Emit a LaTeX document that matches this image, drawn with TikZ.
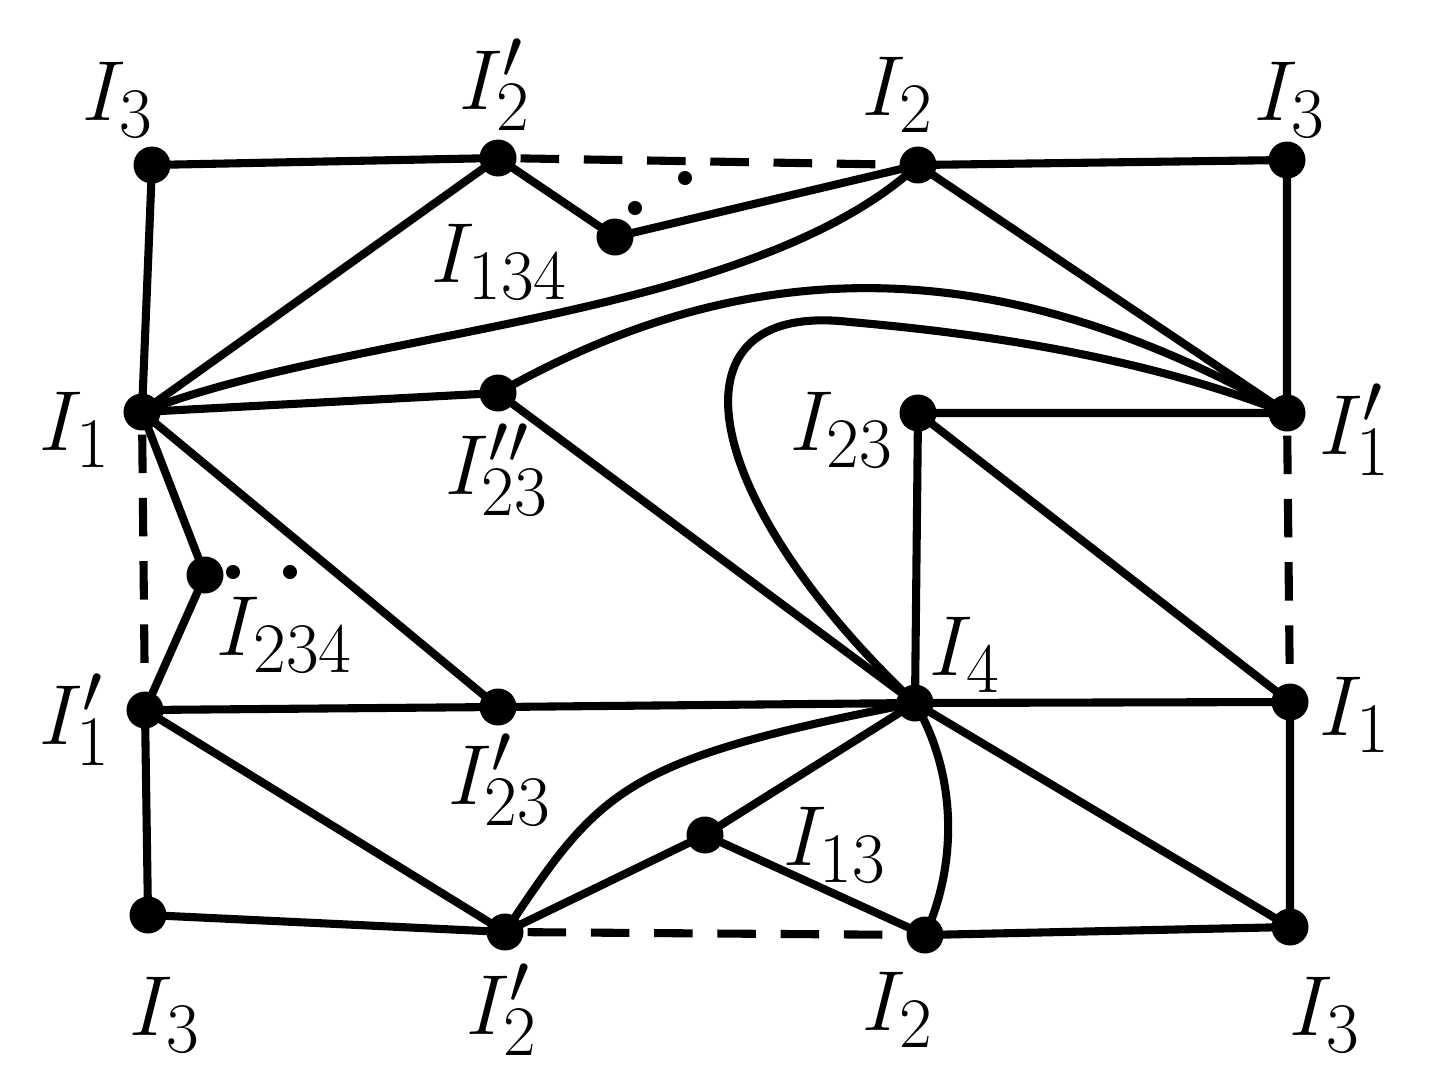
\documentclass[tikz,border=0pt]{standalone}
\begin{document}
\begin{tikzpicture}[x=0.02cm,y=-0.02cm,line width=4.6pt,
  dot/.style={circle,fill=black,inner sep=0pt,minimum size=0.74cm},
  lab/.style={font=\Huge,scale=1.95},
  dsh/.style={dash pattern=on 22pt off 14pt}]
\useasboundingbox (0,0) rectangle (1429,1079);
\foreach \n/\x/\y in {a/152/165,b/498/158,c/918/165,d/1287/160,e/615/237,f/142/412,g/498/393,h/918/413,i/1287/413,j/205/575,k/145/710,l/498/707,m/915/703,n/1290/702,o/705/835,p/148/915,q/505/932,r/925/935,s/1290/927}
  \node[dot] (\n) at (\x,\y) {};
\foreach \x/\y in {635/208,685/178,233/572,290/572} \fill (\x,\y) circle (4pt);
\draw (a.center)--(b.center) (a.center)--(f.center) (c.center)--(d.center) (d.center)--(i.center) (b.center)--(e.center) (e.center)--(c.center) (b.center)--(f.center) (c.center)--(i.center)
  (f.center)--(g.center) (g.center)--(m.center) (h.center)--(i.center) (h.center)--(m.center) (h.center)--(n.center) (f.center)--(j.center) (j.center)--(k.center) (f.center)--(l.center) (k.center)--(l.center)
  (l.center)--(m.center) (m.center)--(n.center) (n.center)--(s.center) (m.center)--(s.center) (m.center)--(o.center) (o.center)--(r.center) (o.center)--(q.center) (k.center)--(q.center) (k.center)--(p.center)
  (p.center)--(q.center) (r.center)--(s.center);
\draw[dsh] (b)--(c) (i)--(n) (f)--(k) (q)--(r);
\draw (f.center) .. controls (350,330) and (750,320) .. (c.center);
\draw (g.center) .. controls (750,250) and (1000,250) .. (i.center);
\draw (m.center) .. controls (700,500) and (660,300) .. (850,322) .. controls (1000,335) and (1150,360) .. (i.center);
\draw (q.center) .. controls (600,790) and (620,760) .. (m.center);
\draw (m.center) .. controls (960,780) and (955,870) .. (r.center);
\foreach \x/\y/\t in {118/100/{I_3},495/85/{I_2'},898/95/{I_2},1290/100/{I_3},500/262/{I_{134}},75/430/{I_1},497/470/{I_{23}''},842/430/{I_{23}},1355/430/{I_1'},285/635/{I_{234}},75/720/{I_1'},500/780/{I_{23}'},965/655/{I_4},1355/715/{I_1},835/845/{I_{13}},165/1015/{I_3},502/1010/{I_2'},898/1010/{I_2},1325/1015/{I_3}}
  \node[lab] at (\x,\y) {$\t$};
\end{tikzpicture}
\end{document}
